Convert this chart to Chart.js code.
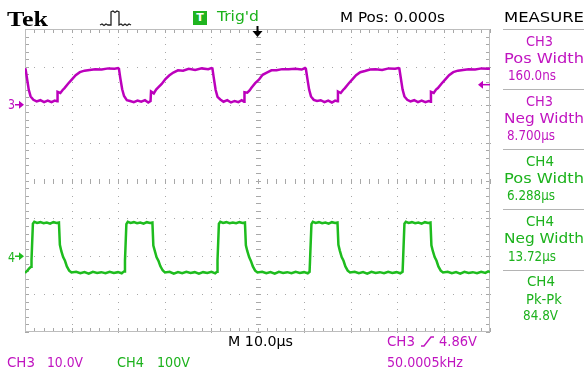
<!DOCTYPE html>
<html>
<head>
<meta charset="utf-8">
<script src="https://cdn.jsdelivr.net/npm/chart.js@4/dist/chart.umd.min.js"></script>
<style>
  html, body { margin: 0; padding: 0; background: #fff; }
  #wrap { position: relative; width: 584px; height: 373px; overflow: hidden; }
  #scope { position: absolute; left: 0; top: 0; }
  .txt { position: absolute; font: 13.5px "DejaVu Sans", sans-serif; line-height: 1; white-space: nowrap; transform-origin: left top; }
  .tek { font: bold 21px "Liberation Serif", serif; }
  .tbox { position: absolute; left: 193px; top: 11px; width: 14px; height: 14px; background: #1fb41f;
          color: #fff; font: bold 11px "DejaVu Sans", sans-serif; line-height: 14px; text-align: center; }
</style>
</head>
<body>
<div id="wrap">
  <canvas id="scope" width="584" height="373"></canvas>
  <div class="tbox">T</div>
</div>
<script>
// time in µs (10 µs/div, M Pos 0), level in screen divisions
const ch3Time = [
  -50.0, -49.9, -49.6, -49.2, -48.8, -48.2, -47.5, -46.7, -45.9, -45.1, -44.3, -43.6, -43.1, -43.0,
  -42.4, -41.9, -41.5, -40.7, -39.9, -39.1, -38.2, -37.2, -36.1, -34.9, -33.5, -32.1, -30.7, -30.0,
  -29.8, -29.5, -29.1, -28.7, -28.1, -27.4, -26.6, -25.8, -25.0, -24.2, -23.5, -23.0, -22.9,
  -22.3, -21.8, -21.4, -20.6, -19.8, -19.0, -18.1, -17.1, -16.0, -14.8, -13.4, -12.0, -10.6, -9.9,
  -9.7, -9.4, -9.0, -8.6, -8.0, -7.3, -6.5, -5.7, -4.9, -4.1, -3.4, -2.9, -2.8,
  -2.2, -1.7, -1.3, -0.5, 0.3, 1.1, 2.0, 3.0, 4.1, 5.3, 6.7, 8.1, 9.5, 10.2,
  10.4, 10.7, 11.1, 11.5, 12.1, 12.8, 13.6, 14.4, 15.2, 16.0, 16.7, 17.2, 17.3,
  17.9, 18.4, 18.8, 19.6, 20.4, 21.2, 22.1, 23.1, 24.2, 25.4, 26.8, 28.2, 29.6, 30.3,
  30.5, 30.8, 31.2, 31.6, 32.2, 32.9, 33.7, 34.5, 35.3, 36.1, 36.8, 37.2, 37.3,
  37.9, 38.4, 38.8, 39.6, 40.4, 41.2, 42.1, 43.1, 44.2, 45.4, 46.8, 48.2, 49.6, 50.0
];
const ch3Level = [
  2.94, 2.96, 2.72, 2.40, 2.22, 2.13, 2.09, 2.12, 2.07, 2.11, 2.07, 2.11, 2.09, 2.34,
  2.31, 2.39, 2.44, 2.56, 2.67, 2.78, 2.86, 2.90, 2.92, 2.94, 2.93, 2.96, 2.95, 2.97,
  2.95, 2.70, 2.41, 2.23, 2.12, 2.10, 2.07, 2.11, 2.08, 2.12, 2.06, 2.10, 2.35,
  2.30, 2.40, 2.45, 2.55, 2.68, 2.77, 2.85, 2.91, 2.90, 2.95, 2.92, 2.96, 2.94, 2.97,
  2.96, 2.71, 2.39, 2.21, 2.14, 2.08, 2.12, 2.06, 2.10, 2.07, 2.12, 2.08, 2.33,
  2.32, 2.38, 2.45, 2.57, 2.66, 2.79, 2.85, 2.91, 2.91, 2.94, 2.94, 2.95, 2.93, 2.97,
  2.95, 2.71, 2.40, 2.22, 2.13, 2.10, 2.12, 2.07, 2.11, 2.06, 2.11, 2.09, 2.35,
  2.31, 2.39, 2.44, 2.56, 2.67, 2.78, 2.86, 2.89, 2.93, 2.94, 2.92, 2.96, 2.95, 2.97,
  2.96, 2.72, 2.40, 2.22, 2.13, 2.09, 2.12, 2.07, 2.11, 2.07, 2.10, 2.08, 2.34,
  2.31, 2.40, 2.44, 2.56, 2.67, 2.78, 2.86, 2.90, 2.92, 2.94, 2.93, 2.96, 2.95, 2.96
];
const ch4Time = [
  -50.0, -49.5, -49.0, -48.7, -48.6, -48.3, -48.0, -47.4, -46.7, -46.0, -45.3, -44.6, -43.9, -43.2, -42.7,
  -42.5, -42.2, -41.8, -41.4, -41.0, -40.5, -40.0, -39.0, -38.1, -37.2, -36.3, -35.4, -34.5, -33.6,
  -32.7, -31.8, -30.9, -30.0, -29.2, -28.7,
  -28.5, -28.2, -27.9, -27.3, -26.6, -25.9, -25.2, -24.5, -23.8, -23.1, -22.6,
  -22.4, -22.1, -21.7, -21.3, -20.9, -20.4, -19.9, -18.9, -18.0, -17.1, -16.2, -15.3, -14.4, -13.5,
  -12.6, -11.7, -10.8, -9.9, -9.1, -8.7,
  -8.6, -8.3, -8.0, -7.4, -6.7, -6.0, -5.3, -4.6, -3.9, -3.2, -2.7,
  -2.5, -2.2, -1.8, -1.4, -1.0, -0.5, 0.0, 1.0, 1.9, 2.8, 3.7, 4.6, 5.5, 6.4,
  7.3, 8.2, 9.1, 10.0, 10.8, 11.2,
  11.3, 11.6, 11.9, 12.5, 13.2, 13.9, 14.6, 15.3, 16.0, 16.7, 17.2,
  17.4, 17.7, 18.1, 18.5, 18.9, 19.4, 19.9, 20.9, 21.8, 22.7, 23.6, 24.5, 25.4, 26.3,
  27.2, 28.1, 29.0, 29.9, 30.7, 31.2,
  31.3, 31.6, 31.9, 32.5, 33.2, 33.9, 34.6, 35.3, 36.0, 36.7, 37.2,
  37.4, 37.7, 38.1, 38.5, 38.9, 39.4, 39.9, 40.9, 41.8, 42.7, 43.6, 44.5, 45.4, 46.3,
  47.2, 48.1, 49.0, 49.6, 50.0
];
const ch4Level = [
  -2.44, -2.38, -2.31, -2.28, -2.10, -1.14, -1.09, -1.12, -1.10, -1.13, -1.11, -1.14, -1.10, -1.12, -1.11,
  -1.70, -1.86, -2.02, -2.12, -2.27, -2.38, -2.43, -2.41, -2.45, -2.42, -2.46, -2.41, -2.44, -2.42,
  -2.45, -2.41, -2.44, -2.42, -2.45, -2.40,
  -2.12, -1.15, -1.09, -1.12, -1.10, -1.13, -1.11, -1.14, -1.10, -1.12, -1.11,
  -1.72, -1.85, -2.03, -2.12, -2.26, -2.37, -2.43, -2.41, -2.46, -2.42, -2.45, -2.41, -2.44, -2.42,
  -2.46, -2.42, -2.44, -2.41, -2.45, -2.41,
  -2.11, -1.14, -1.09, -1.12, -1.10, -1.13, -1.11, -1.13, -1.10, -1.12, -1.11,
  -1.71, -1.86, -2.02, -2.13, -2.27, -2.38, -2.43, -2.41, -2.45, -2.42, -2.46, -2.41, -2.44, -2.42,
  -2.45, -2.41, -2.44, -2.42, -2.45, -2.41,
  -2.10, -1.15, -1.09, -1.12, -1.10, -1.13, -1.11, -1.14, -1.10, -1.12, -1.11,
  -1.70, -1.85, -2.02, -2.12, -2.27, -2.38, -2.43, -2.41, -2.45, -2.42, -2.46, -2.41, -2.44, -2.42,
  -2.45, -2.41, -2.44, -2.42, -2.45, -2.41,
  -2.11, -1.14, -1.09, -1.12, -1.10, -1.13, -1.11, -1.14, -1.10, -1.12, -1.11,
  -1.71, -1.86, -2.02, -2.12, -2.27, -2.38, -2.43, -2.41, -2.45, -2.42, -2.46, -2.41, -2.44, -2.42,
  -2.45, -2.41, -2.44, -2.40, -2.42
];
const ch3Ground = 2.0;
const ch4Ground = -2.0;
const trigLevel = 2.53;
const trigTime = 0;

const MAGENTA = "#bc00bc";
const MAG_TXT = "#c014c0";
const GREEN = "#1ebc1e";
const GRN_TXT = "#1cb21c";

const graticule = {
  id: "graticule",
  beforeDatasetsDraw(chart) {
    const { ctx, chartArea: a, scales: { x, y } } = chart;
    ctx.save();
    ctx.fillStyle = "#a8a8a8";
    const cx = Math.round(x.getPixelForValue(0));
    const cy = Math.round(y.getPixelForValue(0));
    // dotted division lines, dots every minor step
    for (let i = -4; i <= 4; i++) {
      if (i === 0) continue;
      const px = Math.round(x.getPixelForValue(i * 10));
      for (let j = -20; j <= 20; j++) {
        ctx.fillRect(px, Math.round(y.getPixelForValue(j * 0.2)), 1, 1);
      }
    }
    for (let i = -3; i <= 3; i++) {
      if (i === 0) continue;
      const py = Math.round(y.getPixelForValue(i));
      for (let j = -25; j <= 25; j++) {
        ctx.fillRect(Math.round(x.getPixelForValue(j * 2)), py, 1, 1);
      }
    }
    // centre cross ticks and frame ticks
    for (let j = -20; j <= 20; j++) {
      const py = Math.round(y.getPixelForValue(j * 0.2));
      ctx.fillRect(cx - 2, py, 5, 1);
      ctx.fillRect(a.left, py, 4, 1);
      ctx.fillRect(a.right - 4, py, 4, 1);
    }
    for (let j = -25; j <= 25; j++) {
      const px = Math.round(x.getPixelForValue(j * 2));
      ctx.fillRect(px, cy - 2, 1, 5);
      ctx.fillRect(px, a.top, 1, 4);
      ctx.fillRect(px, a.bottom - 4, 1, 4);
    }
    ctx.strokeStyle = "#bdbdbd";
    ctx.lineWidth = 1;
    ctx.strokeRect(Math.round(a.left) + 0.5, Math.round(a.top) + 0.5,
      Math.round(a.right - a.left) - 1, Math.round(a.bottom - a.top) - 1);
    ctx.restore();
  },
  afterDraw(chart) {
    const { ctx, chartArea: a, scales: { x, y } } = chart;
    ctx.save();
    // trigger position arrow
    const tx = x.getPixelForValue(trigTime);
    ctx.fillStyle = "#000";
    ctx.fillRect(tx - 1, 26, 2, 6);
    ctx.beginPath();
    ctx.moveTo(tx - 5, 31); ctx.lineTo(tx + 5, 31); ctx.lineTo(tx, 37); ctx.closePath();
    ctx.fill();
    // trigger level arrow (right)
    const ly = y.getPixelForValue(trigLevel);
    ctx.fillStyle = MAGENTA;
    ctx.fillRect(a.right - 9, ly - 0.75, 9, 1.5);
    ctx.beginPath();
    ctx.moveTo(a.right - 12, ly); ctx.lineTo(a.right - 7, ly - 4); ctx.lineTo(a.right - 7, ly + 4); ctx.closePath();
    ctx.fill();
    // ground markers (left)
    [[ch3Ground, MAGENTA], [ch4Ground, GREEN]].forEach(([g, c]) => {
      const gy = y.getPixelForValue(g);
      ctx.fillStyle = c;
      ctx.fillRect(a.left - 10, gy - 0.75, 6, 1.5);
      ctx.beginPath();
      ctx.moveTo(a.left - 1, gy); ctx.lineTo(a.left - 6, gy - 4); ctx.lineTo(a.left - 6, gy + 4); ctx.closePath();
      ctx.fill();
    });
    // acquisition icon
    ctx.strokeStyle = "#222";
    ctx.lineWidth = 1.3;
    ctx.beginPath();
    ctx.moveTo(100, 25); ctx.lineTo(102, 24); ctx.lineTo(104, 25.5); ctx.lineTo(106, 24); ctx.lineTo(108, 25); ctx.lineTo(111, 25);
    ctx.lineTo(111, 12); ctx.lineTo(113, 11); ctx.lineTo(115, 12.5); ctx.lineTo(117, 11); ctx.lineTo(119, 12);
    ctx.lineTo(119, 25); ctx.lineTo(121, 24); ctx.lineTo(123, 25.5); ctx.lineTo(125, 24); ctx.lineTo(127, 25.5); ctx.lineTo(129, 24); ctx.lineTo(131, 25);
    ctx.stroke();
    // rising slope symbol
    ctx.strokeStyle = MAG_TXT;
    ctx.lineWidth = 1.4;
    ctx.beginPath();
    ctx.moveTo(421, 346); ctx.lineTo(424, 346); ctx.lineTo(431, 337); ctx.lineTo(434, 337);
    ctx.stroke();
    // measure panel separators
    ctx.strokeStyle = "#b4b4b4";
    ctx.lineWidth = 1;
    [29, 89, 149, 209, 270].forEach((sy) => {
      ctx.beginPath(); ctx.moveTo(503, sy + 0.5); ctx.lineTo(584, sy + 0.5); ctx.stroke();
    });
    ctx.restore();
  }
};

new Chart(document.getElementById("scope"), {
  type: "scatter",
  data: {
    datasets: [
      { label: "CH3", data: ch3Time.map((t, i) => ({ x: t, y: ch3Level[i] })),
        showLine: true, borderColor: MAGENTA, borderWidth: 2.5, pointRadius: 0, tension: 0 },
      { label: "CH4", data: ch4Time.map((t, i) => ({ x: t, y: ch4Level[i] })),
        showLine: true, borderColor: GREEN, borderWidth: 2.5, pointRadius: 0, tension: 0 }
    ]
  },
  options: {
    responsive: false,
    animation: false,
    devicePixelRatio: 1,
    layout: { padding: { left: 25, right: 94, top: 29, bottom: 41 } },
    scales: {
      x: { type: "linear", min: -50, max: 50, display: false },
      y: { type: "linear", min: -4, max: 4, display: false }
    },
    plugins: { legend: { display: false }, tooltip: { enabled: false } }
  },
  plugins: [graticule]
});

// text: [string, left, right, cap top, colour, serif]
const texts = [
  ["Tek", 7, 48, 11, "#000", true],
  ["Trig'd", 217, 259, 12, GRN_TXT],
  ["M Pos: 0.000s", 340, 445, 12.5, "#000"],
  ["MEASURE", 504, 584, 12.5, "#000"],
  ["CH3", 526, 553, 37, MAG_TXT],
  ["Pos Width", 504, 584, 54, MAG_TXT],
  ["160.0ns", 508, 556, 71, MAG_TXT],
  ["CH3", 526, 553, 97, MAG_TXT],
  ["Neg Width", 504, 584, 114, MAG_TXT],
  ["8.700µs", 507, 555, 131, MAG_TXT],
  ["CH4", 526, 554, 157, GRN_TXT],
  ["Pos Width", 504, 584, 174, GRN_TXT],
  ["6.288µs", 507, 555, 191, GRN_TXT],
  ["CH4", 526, 554, 217, GRN_TXT],
  ["Neg Width", 504, 584, 234, GRN_TXT],
  ["13.72µs", 508, 556, 252, GRN_TXT],
  ["CH4", 527, 555, 277, GRN_TXT],
  ["Pk-Pk", 526, 562, 295, GRN_TXT],
  ["84.8V", 523, 558, 311, GRN_TXT],
  ["3", 8, 15, 100, MAG_TXT],
  ["4", 8, 15, 253, GRN_TXT],
  ["M 10.0µs", 228, 293, 337, "#000"],
  ["CH3", 387, 415, 337, MAG_TXT],
  ["4.86V", 439, 477, 337, MAG_TXT],
  ["CH3", 7, 35, 358, MAG_TXT],
  ["10.0V", 47, 83, 358, MAG_TXT],
  ["CH4", 117, 144, 358, GRN_TXT],
  ["100V", 157, 190, 358, GRN_TXT],
  ["50.0005kHz", 387, 463, 358, MAG_TXT]
];
const wrap = document.getElementById("wrap");
texts.forEach(([str, x0, x1, capTop, color, serif]) => {
  const el = document.createElement("div");
  el.className = serif ? "txt tek" : "txt";
  el.textContent = str;
  el.style.color = color;
  wrap.appendChild(el);
  const size = serif ? 21 : 13.5;
  const off = serif ? 0.1755 * size : 0.117 * size;
  el.style.left = x0 + "px";
  el.style.top = (capTop - off) + "px";
  const w = el.getBoundingClientRect().width;
  el.style.transform = "scaleX(" + ((x1 - x0) / w).toFixed(3) + ")";
});
</script>
</body>
</html>
